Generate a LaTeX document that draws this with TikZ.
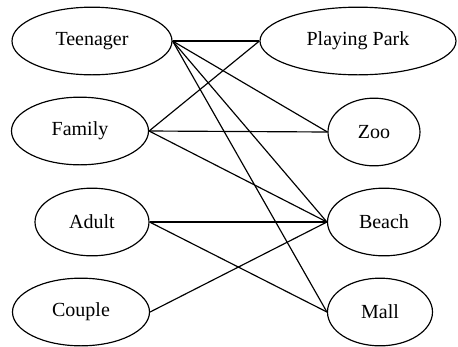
\documentclass[tikz,border=0pt]{standalone}
\usepackage{fontspec}
\newfontfamily\labelfont{Liberation Serif}
\usetikzlibrary{shapes.geometric}
\tikzset{
    place/.style={draw,ellipse,line width=0.7pt,inner sep=0pt,minimum height=40.6pt,font=\labelfont\fontsize{12}{14}\selectfont}
}
\begin{document}
\begin{tikzpicture}[x=0.6pt,y=-0.6pt,line width=0.7pt]
\useasboundingbox (0,0) rectangle (458,346);
\node[place,minimum width=96pt] (teen) at (92,41){Teenager};
\node[place,minimum width=82.2pt] (family) at (80,131){Family};
\node[place,minimum width=68.4pt] (adult) at (92,222){Adult};
\node[place,minimum width=82.2pt] (couple) at (81,312){Couple};
\node[place,minimum width=117.6pt] (park) at (358,41){Playing Park};
\node[place,minimum width=55.2pt] (zoo) at (374,132){Zoo};
\node[place,minimum width=67.8pt] (beach) at (384,222){Beach};
\node[place,minimum width=63pt] (mall) at (380,312){Mall};

\foreach \a/\b in {teen/park,teen/zoo,teen/beach,teen/mall,family/park,family/zoo,family/beach,adult/beach,adult/mall,couple/beach}
{
    \draw(\a.east)--(\b.west);
}

\end{tikzpicture}
\end{document}
